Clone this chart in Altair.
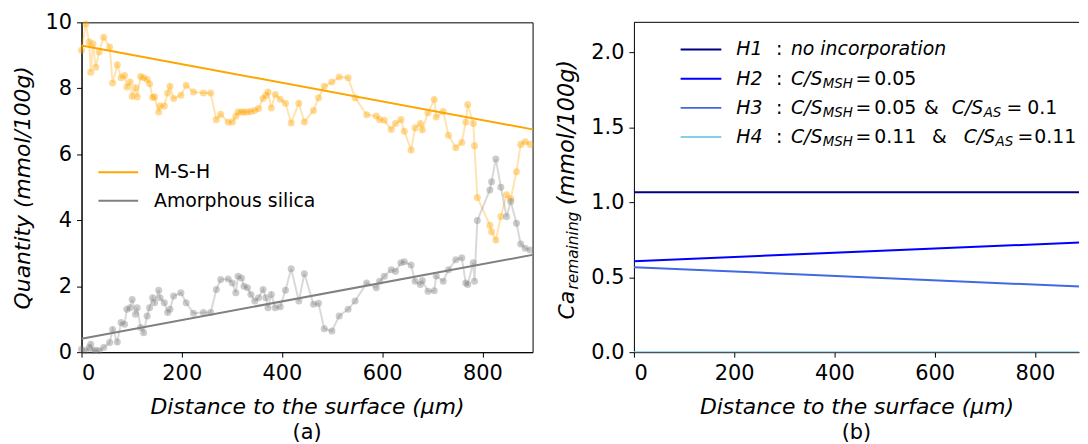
import altair as alt
import pandas as pd

# ---------------- data ----------------
distance = [0, 8.5, 15.3, 18.4, 22.8, 28.4, 35.1, 44.2, 56.1, 62.1, 71.4, 78.9, 85.8, 90.6,
            96.8, 101.1, 107.7, 111, 118, 123.9, 130.9, 135.8, 141.8, 145.7, 154, 156.6,
            165.2, 171.9, 176.5, 183.8, 198.3, 208.8, 223.4, 243.3, 257.7, 269, 277.6,
            292.8, 301, 307.9, 312.3, 319.2, 324.2, 331.1, 338, 345.6, 353.3, 362.2, 367.8,
            372.1, 378.7, 386.6, 396.5, 407, 418.3, 433.6, 444.7, 462.9, 472.9, 484.4,
            499.6, 514.1, 531.9, 545.8, 569, 588.2, 594.8, 604.1, 618, 626.5, 637.4, 644,
            657.6, 665.6, 676.1, 680, 691.3, 703.8, 707.8, 721.7, 732.2, 746.8, 758.7,
            766.7, 770.6, 781.7, 784.1, 789.7, 814.8, 818.2, 826.7, 836.7, 848, 856.5,
            867.8, 876.3, 885.2, 895.2]
msh = [9.15, 9.95, 9.4, 8.49, 9.35, 8.64, 9.1, 9.55, 9.25, 8.16, 8.71, 8.32, 8.39, 8.04,
       8.19, 7.76, 8.02, 7.74, 8.36, 8.32, 8.27, 8.14, 7.72, 7.74, 7.28, 7.46, 7.46, 7.86,
       8.06, 7.69, 7.79, 8.09, 7.89, 7.86, 7.86, 7.05, 7.21, 6.97, 6.98, 7.15, 7.28, 7.28,
       7.28, 7.28, 7.3, 7.33, 7.39, 7.69, 7.78, 7.89, 7.4, 7.81, 7.67, 7.55, 6.95, 7.55,
       6.98, 7.33, 7.71, 8.06, 8.19, 8.34, 8.32, 7.71, 7.2, 7.16, 7.05, 7.03, 6.75, 6.93,
       7.05, 6.7, 6.13, 6.8, 6.93, 6.74, 7.26, 7.66, 7.13, 7.3, 6.58, 6.2, 6.36, 6.98,
       7.51, 6.93, 6.26, 4.69, 3.85, 3.65, 3.4, 4.11, 4.77, 4.65, 5.47, 6.3, 6.38, 6.3]
silica = [0.09, 0.04, 0.14, 0.24, 0.04, 0.06, 0.04, 0.14, 0.29, 0.69, 0.31, 0.9, 0.85, 1.3,
          1.35, 1.6, 1.15, 1.35, 0.75, 0.59, 1.1, 1.35, 1.65, 1.5, 1.88, 1.65, 1.5, 1.2,
          1.3, 1.7, 1.8, 1.5, 1.18, 1.2, 1.2, 1.9, 2.2, 2.22, 2.1, 1.8, 2.3, 2.25, 2.0,
          1.95, 1.75, 1.55, 1.65, 1.9, 1.65, 1.35, 1.75, 1.35, 1.38, 1.88, 2.53, 1.55, 2.38,
          1.45, 1.48, 0.71, 0.64, 1.1, 1.3, 1.55, 2.1, 1.95, 2.15, 2.3, 2.5, 2.45, 2.71,
          2.74, 2.64, 2.15, 2.05, 2.17, 1.85, 1.86, 2.31, 2.15, 2.5, 2.8, 2.86, 2.1, 2.05,
          2.71, 2.15, 3.99, 4.92, 5.17, 5.86, 5.0, 4.11, 4.57, 3.91, 3.28, 3.15, 3.1]

fit_x = [0, 900]
msh_fit = [9.30, 6.755]
silica_fit = [0.41, 2.95]

series_names = ["M-S-H", "Amorphous silica"]
series_colors = ["#FFA500", "#808080"]

hyp_x = [0, 900]
hyp_names = ["H1", "H2", "H3", "H4"]
hyp_start = [1.067, 0.607, 0.567, 0.0]
hyp_end = [1.067, 0.733, 0.436, 0.0]
hyp_colors = ["#000080", "#0000FF", "#4169E1", "#87CEEB"]

FONT = "DejaVu Sans"
W, H = 454, 332          # left plot area
WR = 448                 # right plot area (cut by the figure edge, like the reference)
XR_MAX = 888             # visible part of the right x range
ONE = pd.DataFrame({"k": [0]})


def txt(s, x, y, size, italic=False, angle=None, align="left", baseline="middle"):
    kw = dict(text=s, align=align, baseline=baseline, fontSize=size, font=FONT, color="black")
    if italic:
        kw["fontStyle"] = "italic"
    if angle is not None:
        kw["angle"] = angle
    return alt.Chart(ONE).mark_text(**kw).encode(x=alt.value(x), y=alt.value(y))


def seg(color, x1, x2, y, width=2):
    return alt.Chart(ONE).mark_rule(color=color, strokeWidth=width).encode(
        x=alt.value(x1), x2=alt.value(x2), y=alt.value(y))


x_title = "Distance to the surface (μm)"
ax_common = dict(labelFontSize=21, titleFontSize=22, titleFontStyle="italic",
                 titleFontWeight="normal", labelFont=FONT, titleFont=FONT, tickSize=5,
                 labelPadding=5, grid=False, domainColor="black", tickColor="black",
                 labelColor="black", titleColor="black")
x_axis = alt.Axis(values=[0, 200, 400, 600, 800], title=x_title, titlePadding=14, **ax_common)
sub_title = dict(orient="bottom", fontSize=21, fontWeight="normal", font=FONT,
                 color="black", frame="group", offset=4)

# ---------------- left panel ----------------
df = pd.DataFrame({"distance": distance, "msh": msh, "silica": silica})
fit = pd.DataFrame({"x": fit_x, "msh": msh_fit, "silica": silica_fit})

xs = alt.Scale(domain=[0, 900], nice=False, zero=False)
ys = alt.Scale(domain=[0, 10], nice=False)
X = alt.X("distance:Q", scale=xs, axis=x_axis)
XF = alt.X("x:Q", scale=xs)

layers = []
for field, color in [("msh", series_colors[0]), ("silica", series_colors[1])]:
    Y = alt.Y(f"{field}:Q", scale=ys,
              axis=alt.Axis(values=[0, 2, 4, 6, 8, 10], title="Quantity (mmol/100g)",
                            titlePadding=11, **ax_common))
    layers.append(alt.Chart(df).mark_line(color=color, opacity=0.3, strokeWidth=2).encode(x=X, y=Y))
    layers.append(alt.Chart(df).mark_circle(color=color, opacity=0.4, size=50).encode(x=X, y=Y))
for field, color in [("msh", series_colors[0]), ("silica", series_colors[1])]:
    layers.append(alt.Chart(fit).mark_line(color=color, strokeWidth=2).encode(
        x=XF, y=alt.Y(f"{field}:Q", scale=ys)))

for i, (name, color) in enumerate(zip(series_names, series_colors)):
    y = 151 + i * 28.5
    layers.append(seg(color, 17, 57, y))
    layers.append(txt(name, 73, y, 19))

left = alt.layer(*layers).properties(width=W, height=H, title=alt.TitleParams("(a)", **sub_title))

# ---------------- right panel ----------------
hyp_rows = []
for n, s, e in zip(hyp_names, hyp_start, hyp_end):
    hyp_rows.append({"name": n, "x": hyp_x[0], "v": s})
    hyp_rows.append({"name": n, "x": hyp_x[1], "v": e})
hyp = pd.DataFrame(hyp_rows)

xr = alt.Scale(domain=[0, XR_MAX], nice=False, zero=False)
r_layers = [
    seg("black", 0, WR, 0, width=1),   # top spine (right spine is outside the figure)
    alt.Chart(hyp).mark_line(strokeWidth=2, clip=True).encode(
        x=alt.X("x:Q", scale=xr, axis=x_axis),
        y=alt.Y("v:Q", scale=alt.Scale(domain=[0, 2.2], nice=False),
                axis=alt.Axis(values=[0, 0.5, 1.0, 1.5, 2.0], format=".1f", title=None, **ax_common)),
        color=alt.Color("name:N", scale=alt.Scale(domain=hyp_names, range=hyp_colors), legend=None),
        detail="name:N",
    ),
]

# rotated y title with subscript
r_layers.append(txt("Ca", -60, 299, 22, italic=True, angle=270, baseline="alphabetic"))
r_layers.append(txt("remaining", -56, 269, 15.5, italic=True, angle=270, baseline="alphabetic"))
r_layers.append(txt("(mmol/100g)", -60, 184, 22.5, italic=True, angle=270, baseline="alphabetic"))

# manual legend with mixed styles / subscripts
legend_pieces = [
    [("no incorporation", 158, "it")],
    [("C/S", 158, "it"), ("MSH", 190, "sub"), ("=", 223, "up"), ("0.05", 242, "up")],
    [("C/S", 158, "it"), ("MSH", 190, "sub"), ("=", 223, "up"), ("0.05", 242, "up"),
     ("&", 292, "up"), ("C/S", 320, "it"), ("AS", 352, "sub"), ("=", 375, "up"), ("0.1", 396, "up")],
    [("C/S", 158, "it"), ("MSH", 190, "sub"), ("=", 223, "up"), ("0.11", 242, "up"),
     ("&", 300, "up"), ("C/S", 332, "it"), ("AS", 364, "sub"), ("=", 386, "up"), ("0.11", 403, "up")],
]
for i, (name, color) in enumerate(zip(hyp_names, hyp_colors)):
    y = 27.3 + i * 29.4
    r_layers.append(seg(color, 47, 88, y))
    r_layers.append(txt(name, 103, y, 19, italic=True))
    r_layers.append(txt(":", 143, y, 19))
    for s, xp, kind in legend_pieces[i]:
        if kind == "sub":
            r_layers.append(txt(s, xp, y + 5, 13.5, italic=True))
        else:
            r_layers.append(txt(s, xp, y, 19, italic=(kind == "it")))

right = alt.layer(*r_layers).properties(
    width=WR, height=H, view=alt.ViewConfig(stroke="transparent"),
    title=alt.TitleParams("(b)", **sub_title))

chart = alt.hconcat(left, right, spacing=102, bounds="flush").properties(
    padding={"left": 2, "top": 1, "right": 0, "bottom": 0}
).configure_view(stroke="black", strokeWidth=1)

chart.save("out.html", embed_options={"renderer": "svg", "actions": False})
